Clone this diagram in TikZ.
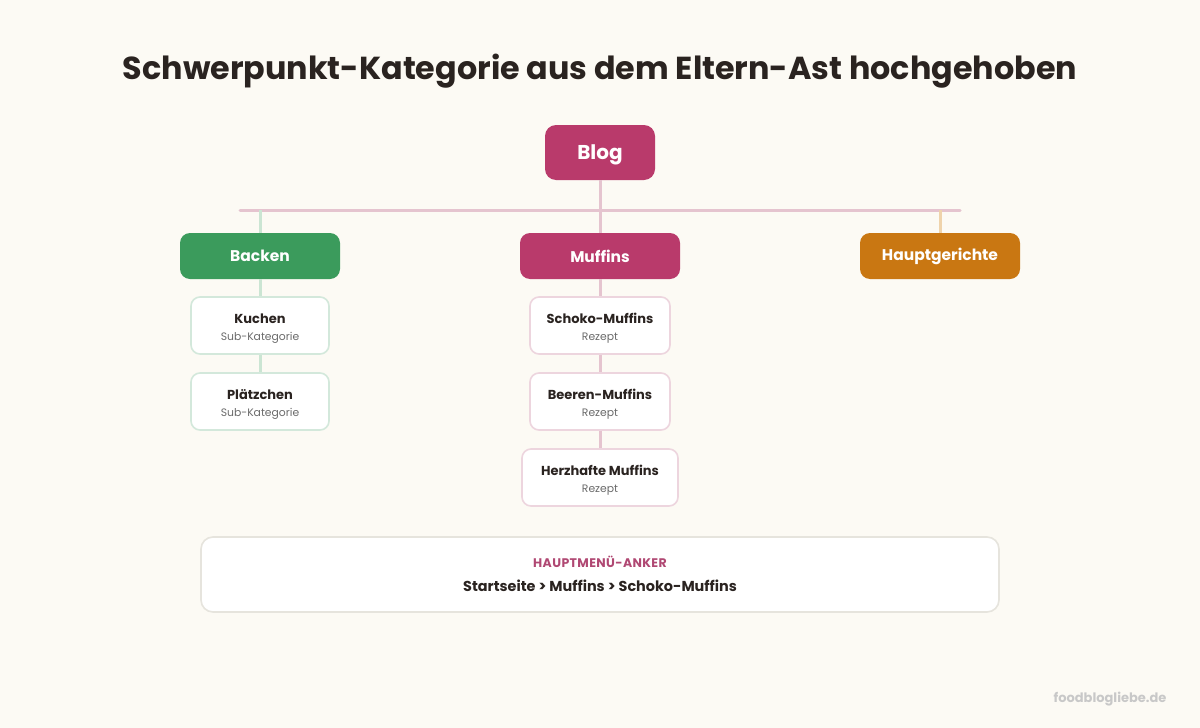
\documentclass[tikz,border=0pt]{standalone}
\usepackage{fontspec}
\setmainfont{Poppins}
\definecolor{bg}{HTML}{FCFAF4}
\definecolor{magenta}{HTML}{B93A6B}
\definecolor{grn}{HTML}{3B9B5C}
\definecolor{orng}{HTML}{C97712}
\definecolor{pinkline}{HTML}{E5C4CF}
\definecolor{grnline}{HTML}{CBE5D3}
\definecolor{orngline}{HTML}{EFD3AB}
\definecolor{grnborder}{HTML}{D3E8DB}
\definecolor{pinkborder}{HTML}{EDD5DE}
\definecolor{darktext}{HTML}{2A2320}
\definecolor{subtext}{HTML}{6B6B6B}
\definecolor{anchorlbl}{HTML}{B04873}
\definecolor{boxborder}{HTML}{E6E4DD}
\definecolor{wm}{HTML}{C8C8C8}
\tikzset{
  topbox/.style={rounded corners=11pt, fill=magenta, text=white, font=\fontsize{20}{24}\selectfont\bfseries, minimum width=110pt, minimum height=55pt, inner sep=0pt},
  catbox/.style={rounded corners=10pt, text=white, font=\fontsize{15.5}{18}\selectfont\bfseries, minimum width=160pt, minimum height=46pt, inner sep=0pt},
  childbox/.style={rounded corners=9pt, fill=white, line width=1.6pt, align=center, minimum height=57pt, inner sep=0pt, text=darktext},
  conn/.style={line width=3pt},
}
\newcommand{\childtxt}[2]{{\rule{0pt}{16pt}\fontsize{13}{15}\selectfont\bfseries #1}\\[5pt]{\fontsize{10.8}{12}\selectfont\color{subtext}#2}}
\begin{document}
\begin{tikzpicture}[x=1pt,y=-1pt]
\useasboundingbox (0,0) rectangle (1200,728);
\fill[bg] (0,0) rectangle (1200,728);
% title
\node[text=darktext, font=\fontsize{31.8}{38}\selectfont\bfseries] (title) at (600,71) {Schwerpunkt-Kategorie aus dem Eltern-Ast hochgehoben};
% nodes
\node[topbox, text depth=0pt, text height=14pt] (blog) at (600,152.5) {Blog};
\node[catbox, fill=grn] (backen) at (260,256) {Backen};
\node[catbox, fill=magenta] (muffins) at (600,256) {Muffins};
\node[catbox, fill=orng] (haupt) at (940,256) {Hauptgerichte};
\node[childbox, draw=grnborder, minimum width=138pt] (kuchen) at (260,325.5) {\childtxt{Kuchen}{Sub-Kategorie}};
\node[childbox, draw=grnborder, minimum width=138pt] (platz) at (260,401.5) {\childtxt{Plätzchen}{Sub-Kategorie}};
\node[childbox, draw=pinkborder, minimum width=140pt] (schoko) at (600,325.5) {\childtxt{Schoko-Muffins}{Rezept}};
\node[childbox, draw=pinkborder, minimum width=140pt] (beeren) at (600,401.5) {\childtxt{Beeren-Muffins}{Rezept}};
\node[childbox, draw=pinkborder, minimum width=156pt] (herz) at (600,477.5) {\childtxt{Herzhafte Muffins}{Rezept}};
% connectors
\coordinate (hl) at (240,210);
\coordinate (hr) at (960,210);
\coordinate (jb) at (260,210);
\coordinate (jh) at (940,210);
\draw[conn, pinkline, line cap=round] (hl) -- (hr);
\draw[conn, pinkline] (blog.south) -- (muffins.north);
\draw[conn, grnline] (jb) -- (backen.north);
\draw[conn, orngline] (jh) -- (haupt.north);
\draw[conn, grnline] (backen.south) -- (kuchen.north);
\draw[conn, grnline] (kuchen.south) -- (platz.north);
\draw[conn, pinkline] (muffins.south) -- (schoko.north);
\draw[conn, pinkline] (schoko.south) -- (beeren.north);
\draw[conn, pinkline] (beeren.south) -- (herz.north);
% anchor box
\node[rounded corners=12pt, fill=white, draw=boxborder, line width=1.6pt, minimum width=798pt, minimum height=75pt] (anchor) at (600,574.5) {};
\node[text=anchorlbl, font=\fontsize{12.5}{14}\selectfont\bfseries\addfontfeatures{LetterSpace=3}] (anchorlabel) at (600,562) {HAUPTMENÜ-ANKER};
\node[text=darktext, font=\fontsize{14.4}{17}\selectfont\bfseries] (crumb) at (600,586) {Startseite > Muffins > Schoko-Muffins};
% watermark
\node[text=wm, font=\fontsize{13}{15}\selectfont\bfseries, anchor=east] (wmark) at (1170,699) {foodblogliebe.de};
\end{tikzpicture}
\end{document}
